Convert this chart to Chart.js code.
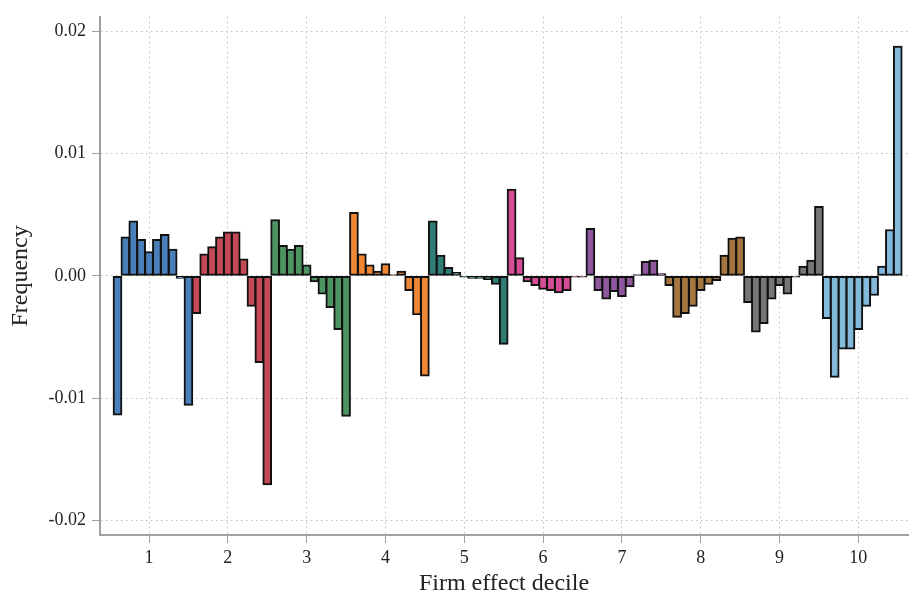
<!DOCTYPE html>
<html>
<head>
<meta charset="utf-8">
<script src="https://cdn.jsdelivr.net/npm/chart.js@4"></script>
<style>
  body { margin: 0; background: #fff; }
</style>
</head>
<body>
<canvas id="decileChart" width="909" height="598"></canvas>
<script>
// change in frequency by firm effect decile, 10 bins per decile
const deciles = [1, 2, 3, 4, 5, 6, 7, 8, 9, 10];
const d1 = [-0.0114, 0.0032, 0.0045, 0.0030, 0.0020, 0.0030, 0.0034, 0.0022, -0.0002, -0.0106];
const d2 = [-0.0031, 0.0018, 0.0024, 0.0032, 0.0036, 0.0036, 0.0014, -0.0025, -0.0071, -0.0171];
const d3 = [0.0046, 0.0025, 0.0022, 0.0025, 0.0009, -0.0005, -0.0015, -0.0026, -0.0044, -0.0115];
const d4 = [0.0052, 0.0018, 0.0009, 0.0004, 0.0010, 0.0001, 0.0004, -0.0012, -0.0032, -0.0082];
const d5 = [0.0045, 0.0017, 0.0007, 0.0003, -0.0001, -0.0002, -0.0002, -0.0003, -0.0007, -0.0056];
const d6 = [0.0071, 0.0015, -0.0005, -0.0008, -0.0011, -0.0012, -0.0014, -0.0012, -0.0001, -0.0001];
const d7 = [0.0039, -0.0012, -0.0019, -0.0013, -0.0017, -0.0009, 0.0001, 0.0012, 0.0013, 0.0002];
const d8 = [-0.0008, -0.0034, -0.0031, -0.0025, -0.0012, -0.0007, -0.0004, 0.0017, 0.0031, 0.0032];
const d9 = [-0.0022, -0.0046, -0.0039, -0.0019, -0.0008, -0.0015, -0.0001, 0.0008, 0.0013, 0.0057];
const d10 = [-0.0035, -0.0083, -0.0060, -0.0060, -0.0044, -0.0025, -0.0016, 0.0008, 0.0038, 0.0188];
const decileValues = [d1, d2, d3, d4, d5, d6, d7, d8, d9, d10];
const decileColors = ['#4a7fba', '#c44a57', '#4c9462', '#ef8735', '#2f7d74',
                      '#d64c97', '#8f579e', '#a6763e', '#767676', '#83badb'];
const yTicks = [-0.02, -0.01, 0, 0.01, 0.02];

// one dataset per decile, bins sit at d-0.4 ... d+0.5
const datasets = deciles.map((d, k) => ({
  data: decileValues[k].map((v, i) => ({ x: Math.round((d - 0.4 + i * 0.1) * 10) / 10, y: v })),
  backgroundColor: decileColors[k],
  borderColor: '#111',
  borderWidth: 2,
  borderSkipped: false,
  barThickness: 9,
}));

const gridOpts = { color: '#bdbdbd', offset: false, tickColor: '#a0a0a0', tickBorderDash: [], tickLength: 8, tickWidth: 1 };
const serif = 'Liberation Serif';

const ctx = document.getElementById('decileChart').getContext('2d');
new Chart(ctx, {
  type: 'bar',
  data: { datasets: datasets },
  options: {
    responsive: false,
    animation: false,
    grouped: false,
    layout: { padding: { top: 12, right: 1, left: 0, bottom: 0 } },
    plugins: { legend: { display: false }, tooltip: { enabled: false } },
    scales: {
      x: {
        type: 'linear',
        offset: false,
        min: 0.378,
        max: 10.63,
        afterBuildTicks: s => { s.ticks = deciles.map(v => ({ value: v })); },
        afterFit: s => { s.height = 63; },
        grid: gridOpts,
        border: { color: '#a0a0a0', width: 2, dash: [1.5, 3.5] },
        ticks: { color: '#222', padding: 4, font: { family: serif, size: 18 } },
        title: { display: true, text: 'Firm effect decile', color: '#222', padding: { top: 0, bottom: 0 },
                 font: { family: serif, size: 24 } },
      },
      y: {
        min: -0.0212,
        max: 0.0212,
        afterBuildTicks: s => { s.ticks = yTicks.map(v => ({ value: v })); },
        afterFit: s => { s.width = 100; },
        grid: gridOpts,
        border: { color: '#a0a0a0', width: 2, dash: [1.5, 3.5] },
        ticks: { color: '#222', padding: 6, font: { family: serif, size: 18 },
                 callback: v => v.toFixed(2) },
        title: { display: true, text: 'Frequency', color: '#222', padding: { top: 6, bottom: 0 },
                 font: { family: serif, size: 24 } },
      },
    },
  },
});
</script>
</body>
</html>
